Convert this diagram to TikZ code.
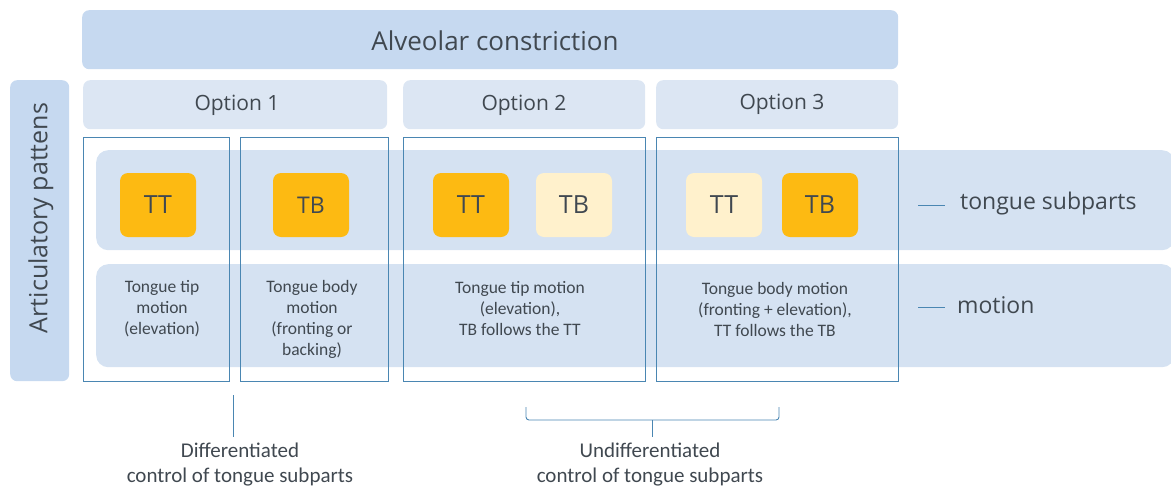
\documentclass[tikz,border=0pt]{standalone}
\usepackage{fontspec}
\setmainfont{Carlito}
\newfontfamily\hdfont{Open Sans}
\definecolor{barblue}{HTML}{C6D9F0}
\definecolor{optblue}{HTML}{DCE6F3}
\definecolor{bandblue}{HTML}{D5E2F2}
\definecolor{edgeblue}{HTML}{4A86B2}
\definecolor{txt}{HTML}{404850}
\definecolor{orng}{HTML}{FDBA12}
\definecolor{lorng}{HTML}{FFF1CC}
\begin{document}
\begin{tikzpicture}[x=1pt,y=-1pt,
  panel/.style={rectangle, rounded corners=7pt, anchor=north west, inner sep=0pt, text=txt},
  outl/.style={rectangle, draw=edgeblue, line width=1pt, anchor=north west, inner sep=0pt},
  tbox/.style={rectangle, rounded corners=8pt, minimum width=76pt, minimum height=64pt, inner sep=0pt, text=txt, font=\hdfont\fontsize{25}{28}\selectfont},
  hd/.style={text=txt, inner sep=0pt},
  mtext/.style={align=center, text=txt, font=\fontsize{17.5}{21}\selectfont, inner sep=0pt},
  ltext/.style={text=txt, anchor=west, inner sep=0pt, font=\hdfont\fontsize{23}{28}\selectfont},
  btext/.style={align=center, text=txt, font=\fontsize{21}{25}\selectfont, inner sep=0pt},
  conn/.style={draw=edgeblue, line width=0.9pt}
]
\useasboundingbox (0,0) rectangle (1171,488);
% top bar
\node[panel, fill=barblue, minimum width=816pt, minimum height=59pt] (alv) at (82,10) {};
\node[hd, font=\hdfont\fontsize{26}{30}\selectfont] (alvt) at (495,41) {Alveolar constriction};
% side bar
\node[panel, fill=barblue, minimum width=59pt, minimum height=301pt] (art) at (10,80) {};
\node[hd, rotate=90, font=\hdfont\fontsize{25}{30}\selectfont] (artt) at (41,218) {Articulatory pattens};
% options
\node[panel, fill=optblue, minimum width=304pt, minimum height=49pt] (o1) at (83,80) {};
\node[hd, font=\hdfont\fontsize{21}{25}\selectfont] at (237,105) {Option 1};
\node[panel, fill=optblue, minimum width=242pt, minimum height=49pt] (o2) at (403,80) {};
\node[hd, font=\hdfont\fontsize{21}{25}\selectfont] at (524,105) {Option 2};
\node[panel, fill=optblue, minimum width=242pt, minimum height=49pt] (o3) at (656,80) {};
\node[hd, font=\hdfont\fontsize{21}{25}\selectfont] at (782,104) {Option 3};
% bands
\node[panel, fill=bandblue, rounded corners=12pt, minimum width=1078pt, minimum height=100pt] (b1) at (96,150) {};
\node[panel, fill=bandblue, rounded corners=12pt, minimum width=1078pt, minimum height=103pt] (b2) at (96,264) {};
% outlined boxes
\node[outl, minimum width=146pt, minimum height=244pt] (c1) at (83,137) {};
\node[outl, minimum width=148pt, minimum height=244pt] (c2) at (240,137) {};
\node[outl, minimum width=242pt, minimum height=244pt] (c3) at (403,137) {};
\node[outl, minimum width=242pt, minimum height=244pt] (c4) at (656,137) {};
% TT/TB
\node[tbox, fill=orng] (t1) at (158,205) {TT};
\node[tbox, fill=orng, font=\hdfont\fontsize{23}{26}\selectfont] (t2) at (311,205) {TB};
\node[tbox, fill=orng] (t3) at (471,205) {TT};
\node[tbox, fill=lorng] (t4) at (574,205) {TB};
\node[tbox, fill=lorng] (t5) at (724,205) {TT};
\node[tbox, fill=orng] (t6) at (820,205) {TB};
% motion texts
\node[mtext] (m1) at (162,309) {Tongue tip\\motion\\(elevation)};
\node[mtext] (m2) at (312,319) {Tongue body\\motion\\(fronting or\\backing)};
\node[mtext] (m3) at (520,309) {Tongue tip motion\\(elevation),\\TB follows the TT};
\node[mtext] (m4) at (775,309) {Tongue body motion\\(fronting + elevation),\\TT follows the TB};
% right labels
\coordinate (d1a) at (918,205); \coordinate (d1b) at (945,205);
\coordinate (d2a) at (918,307); \coordinate (d2b) at (945,307);
\draw[conn] (d1a) -- (d1b);
\draw[conn] (d2a) -- (d2b);
\node[ltext] (ls) at (960,204) {tongue subparts};
\node[ltext] (lm) at (957,305) {motion};
% bottom
\coordinate (v1) at (233,395); \coordinate (v2) at (233,437);
\draw[conn] (v1) -- (v2);
\node[btext] (dt) at (240,465) {Differentiated\\control of tongue subparts};
\coordinate (bl) at (526,407); \coordinate (br) at (779,407);
\coordinate (bm) at (652,437);
\draw[conn, rounded corners=3pt] (bl) -- (526,420) -- (652,420) -- (779,420) -- (br);
\draw[conn] (652,420) -- (bm);
\node[btext] (ut) at (650,465) {Undifferentiated\\control of tongue subparts};
\end{tikzpicture}
\end{document}
